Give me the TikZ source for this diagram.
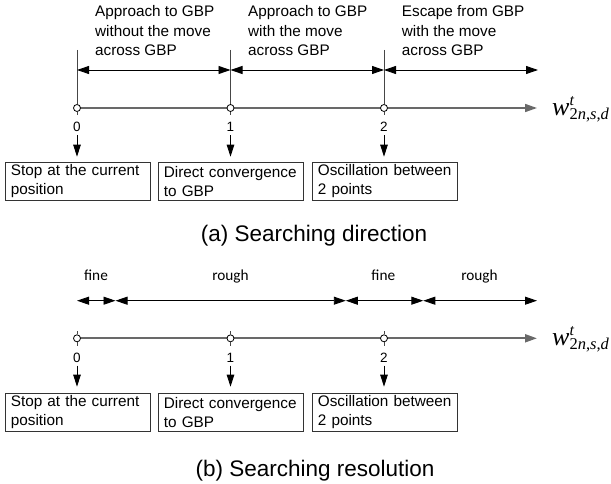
\documentclass[tikz,border=0pt]{standalone}
\usepackage{fontspec}
\setmainfont{Liberation Sans}
\newfontfamily\calfont{Carlito}
\newfontfamily\serfont{Liberation Serif}
\usetikzlibrary{arrows.meta}
\definecolor{axisgray}{RGB}{105,105,105}
\definecolor{vgray}{RGB}{70,70,70}
\newcommand{\wlabel}{{\fontsize{26}{26}\selectfont\itshape w}\rlap{\raisebox{10pt}{\fontsize{16}{16}\selectfont\itshape t}}\raisebox{-4pt}{\fontsize{16.5}{16}\selectfont 2\textit{n},\textit{s},\textit{d}}}
\begin{document}
\begin{tikzpicture}[x=1pt,y=-1pt,
  dbl/.style={{Triangle[length=12pt,width=8pt]}-{Triangle[length=12pt,width=8pt]}, line width=0.9pt, black},
  darr/.style={-{Triangle[length=12pt,width=7.5pt]}, line width=0.9pt, black},
  axisline/.style={line width=1.6pt, axisgray},
  vline/.style={line width=1pt, vgray},
  tickmark/.style={line width=0.9pt, vgray},
  dot/.style={circle, draw=black, fill=white, line width=0.8pt, minimum size=7pt, inner sep=0pt},
  txt/.style={font=\fontsize{15.3}{19.5}\selectfont, inner sep=0pt, anchor=base west, align=left},
  rtxt/.style={font=\calfont\fontsize{15.3}{18}\selectfont, inner sep=0pt, anchor=base},
  num/.style={font=\fontsize{13.5}{15}\selectfont, inner sep=0pt, anchor=base},
  captxt/.style={font=\fontsize{22.5}{26}\selectfont, inner sep=0pt, anchor=base},
  boxst/.style={draw=black!80, line width=0.8pt, anchor=north west, minimum width=145.6pt, minimum height=38.5pt, text width=134pt, inner xsep=5.5pt, inner ysep=0pt, align=left, font=\fontsize{15.3}{19.3}\selectfont},
  wlab/.style={inner sep=0pt, anchor=base west, font=\serfont}
]
\useasboundingbox (0,0) rectangle (611,484);

% ================= (a) =================
% base anchor of a multi-line node = baseline of its last line
\node[txt] (ta1) at (95,56) {Approach to GBP\\without the move\\across GBP};
\node[txt] (ta2) at (248,56) {Approach to GBP\\with the move\\across GBP};
\node[txt] (ta3) at (401.7,56) {Escape from GBP\\with the move\\across GBP};

\coordinate (v0t) at (77,50);
\coordinate (v1t) at (230.5,50);
\coordinate (v2t) at (384,50);
\coordinate (r0) at (77,70);
\coordinate (r1) at (230.5,70);
\coordinate (r2) at (384,70);
\coordinate (r3) at (538,70);
\coordinate (aend) at (537,108);

\draw[axisline, -{Triangle[length=12pt,width=8pt]}] (77,108) coordinate (astart) -- (aend);
\node[dot] (a0) at (77,108) {};
\node[dot] (a1) at (230.5,108) {};
\node[dot] (a2) at (384,108) {};
\draw[vline] (v0t) -- (a0.north);
\draw[vline] (v1t) -- (a1.north);
\draw[vline] (v2t) -- (a2.north);
\draw[tickmark] (a0.south) -- ++(0,3.5);
\draw[tickmark] (a1.south) -- ++(0,3.5);
\draw[tickmark] (a2.south) -- ++(0,3.5);

\draw[dbl] (r0) -- (r1);
\draw[dbl] (r1) -- (r2);
\draw[dbl] (r2) -- (r3);

\node[wlab] (wa) at (552,115.5) {\wlabel};

\node[num] (na0) at (77,132) {0};
\node[num] (na1) at (230.5,132) {1};
\node[num] (na2) at (384,132) {2};

\node[boxst] (ba0) at (4.7,161.7) {Stop at the current\\position};
\node[boxst] (ba1) at (157.7,161.7) {Direct convergence\\to GBP};
\node[boxst] (ba2) at (311.7,161.7) {Oscillation between\\2 points};

\draw[darr, shorten <=3pt, shorten >=5pt] (na0.south) -- (ba0.north -| na0.south);
\draw[darr, shorten <=3pt, shorten >=5pt] (na1.south) -- (ba1.north -| na1.south);
\draw[darr, shorten <=3pt, shorten >=5pt] (na2.south) -- (ba2.north -| na2.south);

\node[captxt] (capa) at (314,241.7) {(a) Searching direction};

% ================= (b) =================
\node[rtxt] (f1) at (96,280) {fine};
\node[rtxt] (g1) at (230.5,280) {rough};
\node[rtxt] (f2) at (383.3,280) {fine};
\node[rtxt] (g2) at (479.5,280) {rough};

\coordinate (s0) at (77,300.7);
\coordinate (s1) at (115.5,300.7);
\coordinate (s2) at (345.8,300.7);
\coordinate (s3) at (423.3,300.7);
\coordinate (s4) at (537,300.7);
\draw[dbl] (s0) -- (s1);
\draw[dbl] (s1) -- (s2);
\draw[dbl] (s2) -- (s3);
\draw[dbl] (s3) -- (s4);

\coordinate (bend) at (537,338.3);
\draw[axisline, line width=2pt, -{Triangle[length=12pt,width=8pt]}] (77,338.3) -- (bend);
\node[dot] (b0) at (77,338.3) {};
\node[dot] (b1) at (230.5,338.3) {};
\node[dot] (b2) at (384,338.3) {};
\foreach \n in {b0,b1,b2}{
  \draw[tickmark] (\n.north) -- ++(0,-3.5);
  \draw[tickmark] (\n.south) -- ++(0,3.5);
}

\node[wlab] (wb) at (552,345.3) {\wlabel};

\node[num] (nb0) at (77,362.3) {0};
\node[num] (nb1) at (230.5,362.3) {1};
\node[num] (nb2) at (384,362.3) {2};

\node[boxst] (bb0) at (4.7,392.7) {Stop at the current\\position};
\node[boxst] (bb1) at (157.7,392.7) {Direct convergence\\to GBP};
\node[boxst] (bb2) at (311.7,392.7) {Oscillation between\\2 points};

\draw[darr, shorten <=3pt, shorten >=6pt] (nb0.south) -- (bb0.north -| nb0.south);
\draw[darr, shorten <=3pt, shorten >=6pt] (nb1.south) -- (bb1.north -| nb1.south);
\draw[darr, shorten <=3pt, shorten >=6pt] (nb2.south) -- (bb2.north -| nb2.south);

\node[captxt] (capb) at (315,476) {(b) Searching resolution};
\end{tikzpicture}
\end{document}
